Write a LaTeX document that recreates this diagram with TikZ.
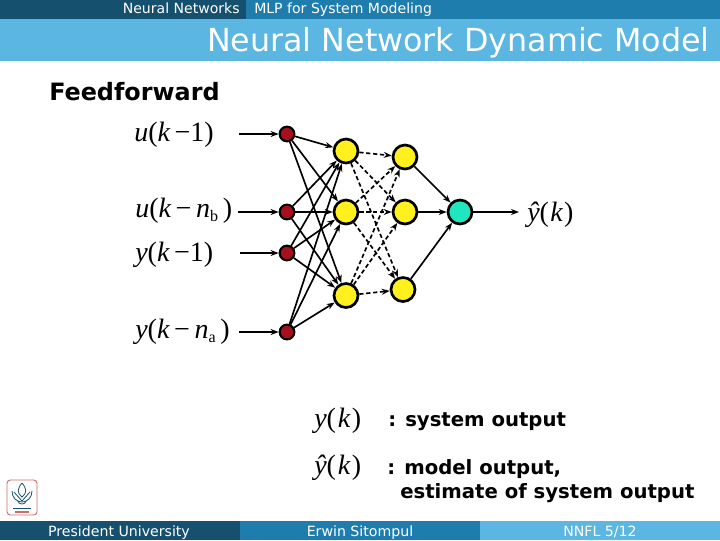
\documentclass[tikz,border=0pt]{standalone}
\usepackage{fontspec}
\setmainfont{DejaVu Sans}
\newfontfamily\mth{Liberation Serif}
\usetikzlibrary{arrows.meta}
\definecolor{bardark}{HTML}{15506F}
\definecolor{barmid}{HTML}{1F7DAE}
\definecolor{barlight}{HTML}{5BB6E2}
\definecolor{inred}{HTML}{A80F1C}
\definecolor{hidy}{HTML}{FFF01E}
\definecolor{outc}{HTML}{1FE6BE}
\definecolor{logored}{HTML}{C8706E}
\newcommand{\mv}[1]{{\mth\itshape #1}}
\newcommand{\mr}[1]{{\mth #1}}
\tikzset{
  inp/.style={circle,draw=black,line width=1.6pt,fill=inred,minimum size=11pt,inner sep=0pt},
  hid/.style={circle,draw=black,line width=2pt,fill=hidy,minimum size=18pt,inner sep=0pt},
  outn/.style={circle,draw=black,line width=2pt,fill=outc,minimum size=18pt,inner sep=0pt},
  conn/.style={line width=1.25pt,-{Stealth[length=6pt,width=4.5pt]}},
  dconn/.style={conn,dash pattern=on 3.2pt off 2pt},
  lbl/.style={inner sep=0pt,font=\fontsize{21}{21}\selectfont,anchor=west},
  txt/.style={inner sep=0pt,anchor=base west,text=white},
  bt/.style={inner sep=0pt,anchor=west,font=\bfseries\fontsize{14.75}{14.75}\selectfont}
}
\begin{document}
\begin{tikzpicture}[x=0.75pt,y=-0.75pt]
\useasboundingbox (0,0) rectangle (720,540);
\fill[white] (0,0) rectangle (720,540);
% header
\fill[bardark] (0,0) rectangle (246,19);
\fill[barmid] (246,0) rectangle (720,19);
\fill[barlight] (0,19) rectangle (720,61);
\fill[bardark] (0,521) rectangle (240,540);
\fill[barmid] (240,521) rectangle (480,540);
\fill[barlight] (480,521) rectangle (720,540);
\node[txt,font=\fontsize{10.55}{10.55}\selectfont,anchor=base east] (secA) at (240,13) {Neural Networks};
\node[txt,font=\fontsize{10.55}{10.55}\selectfont] (secB) at (254,13) {MLP for System Modeling};
\node[txt,font=\fontsize{23.8}{23.8}\selectfont,anchor=base east] (title) at (710,51) {Neural Network Dynamic Model};
\node[txt,font=\fontsize{10.6}{10.6}\selectfont,anchor=base] (f1) at (119,536) {President University};
\node[txt,font=\fontsize{10.6}{10.6}\selectfont,anchor=base] (f2) at (360,536) {Erwin Sitompul};
\node[txt,font=\fontsize{10.6}{10.6}\selectfont,anchor=base] (f3) at (600,536) {NNFL 5/12};
\node[bt,font=\bfseries\fontsize{17.9}{17.9}\selectfont] (ff) at (49,92) {Feedforward};
% network nodes
\node[inp] (i1) at (287,134) {};
\node[inp] (i2) at (287,212) {};
\node[inp] (i3) at (287,253) {};
\node[inp] (i4) at (287,332) {};
\node[hid] (h1) at (346,151) {};
\node[hid] (h2) at (346,212) {};
\node[hid] (h3) at (346,295.5) {};
\node[hid] (m1) at (405,157) {};
\node[hid] (m2) at (405,212) {};
\node[hid] (m3) at (403,289.5) {};
\node[outn] (o) at (460,212) {};
% input labels
\node[lbl] (l1) at (134,135) {\mv{u}\mr{(}\mv{k}\,\mr{−}\mr{1)}};
\node[lbl] (l2) at (135,211) {\mv{u}\mr{(}\mv{k}\,\mr{−}\,\mv{n}\raisebox{-3pt}{\mr{\fontsize{12}{12}\selectfont b}}\,\mr{)}};
\node[lbl] (l3) at (135,255) {\mv{y}\mr{(}\mv{k}\,\mr{−}\mr{1)}};
\node[lbl] (l4) at (135,332) {\mv{y}\mr{(}\mv{k}\,\mr{−}\,\mv{n}\raisebox{-3pt}{\mr{\fontsize{12}{12}\selectfont a}}\,\mr{)}};
\node[lbl] (ly) at (527,215) {\mv{ŷ}\mr{(}\kern1pt\mv{k}\kern1pt\mr{)}};
\coordinate (s1) at (239,134);
\coordinate (s2) at (238,212);
\coordinate (s3) at (240,253);
\coordinate (s4) at (239,332);
\coordinate (e) at (519,212);
\draw[conn] (s1) -- (i1);
\draw[conn] (s2) -- (i2);
\draw[conn] (s3) -- (i3);
\draw[conn] (s4) -- (i4);
\foreach \a in {i1,i2,i3,i4}\foreach \b in {h1,h2,h3}{\draw[conn] (\a) -- (\b);}
\foreach \a in {h1,h2,h3}\foreach \b in {m1,m2,m3}{\draw[dconn] (\a) -- (\b);}
\foreach \a in {m1,m2,m3}{\draw[conn] (\a) -- (o);}
\draw[conn] (o) -- (e);
% legend
\node[lbl] (k1) at (314,421) {\mv{y}\mr{(}\kern1.3pt\mv{k}\kern1.3pt\mr{)}};
\node[lbl] (k2) at (314,468) {\mv{ŷ}\mr{(}\kern1.3pt\mv{k}\kern1.3pt\mr{)}};
\node[bt] (t1) at (388,422) {: system output};
\node[bt] (t2) at (387,469) {: model output,};
\node[bt] (t3) at (400,493) {estimate of system output};
% logo
\draw[logored,line width=0.7pt,rounded corners=2.5pt,fill=white] (7,480) rectangle (37,515);
\begin{scope}[draw=bardark,line width=0.6pt]
\draw (22,483) .. controls (17,489) and (17,493) .. (22,497) .. controls (27,493) and (27,489) .. (22,483);
\draw (12,491) .. controls (12,498) and (17,502) .. (22,502) .. controls (27,502) and (32,498) .. (32,491);
\draw (14,492) -- (22,501) -- (30,492);
\draw (18,501) .. controls (18,505) and (26,505) .. (26,501);
\draw[line width=0.4pt] (13,508) -- (31,508);
\draw[line width=0.8pt,logored] (15,512) -- (29,512);
\end{scope}
\end{tikzpicture}
\end{document}
